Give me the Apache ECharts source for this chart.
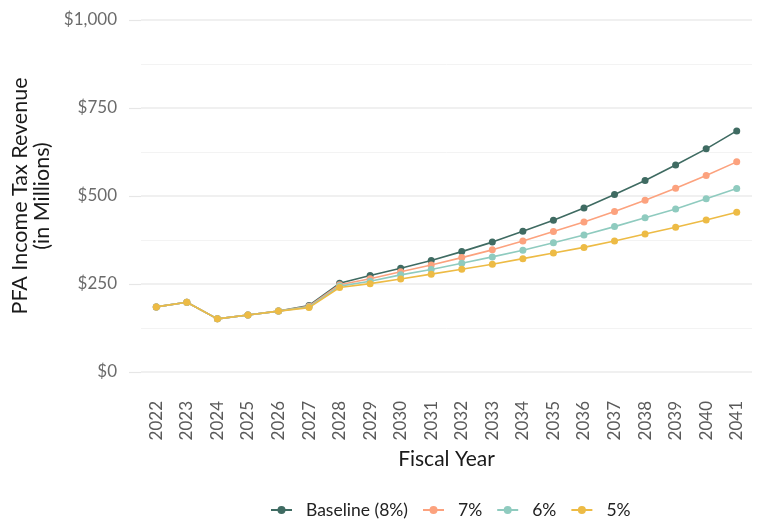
<!DOCTYPE html>
<html>
<head>
<meta charset="utf-8">
<style>
  html, body { margin: 0; padding: 0; background: #ffffff; }
  #chart { width: 758px; height: 519px; }
</style>
<script src="https://cdn.jsdelivr.net/npm/echarts@6/dist/echarts.min.js"></script>
</head>
<body>
<div id="chart"></div>
<script>
// Fiscal years on the horizontal axis
const years = ['2022','2023','2024','2025','2026','2027','2028','2029','2030','2031',
               '2032','2033','2034','2035','2036','2037','2038','2039','2040','2041'];

// PFA income tax revenue, $ millions, by growth scenario
const baseline8 = [185, 198, 151, 162, 173, 189, 252, 274, 295, 317, 342, 369, 400, 431, 466, 504, 544, 588, 634, 685];
const growth7   = [185, 198, 151, 162, 173, 187, 248, 265, 285, 304, 325, 347, 372, 399, 426, 456, 488, 522, 558, 597];
const growth6   = [185, 198, 151, 162, 173, 185, 244, 258, 276, 291, 309, 327, 346, 367, 389, 413, 438, 463, 492, 521];
const growth5   = [185, 198, 151, 162, 173, 183, 240, 251, 264, 278, 292, 306, 322, 338, 354, 372, 392, 411, 432, 454];

const seriesNames = ['Baseline (8%)', '7%', '6%', '5%'];
const seriesData = [baseline8, growth7, growth6, growth5];
const seriesColors = ['#3f6b62', '#fca27e', '#8fcbbf', '#edbb45'];

const FONT = 'Lato, "Liberation Sans", sans-serif';

const chart = echarts.init(document.getElementById('chart'), null, { renderer: 'canvas' });

chart.setOption({
  backgroundColor: '#ffffff',
  animation: false,
  textStyle: { fontFamily: FONT },
  grid: { left: 141, right: 6, top: 20, bottom: 147, containLabel: false },
  legend: {
    data: seriesNames,
    top: 501,
    left: 270,
    padding: 0,
    itemWidth: 21,
    itemHeight: 10,
    itemGap: 14,
    textStyle: { fontFamily: FONT, fontSize: 17.5, color: '#222222', padding: [0, 0, 0, 9] }
  },
  xAxis: {
    type: 'category',
    data: years,
    boundaryGap: true,
    name: 'Fiscal Year',
    nameLocation: 'middle',
    nameGap: 72,
    nameTextStyle: { fontFamily: FONT, fontSize: 21, color: '#1a1a1a' },
    axisLine: { show: false },
    axisTick: { show: false },
    axisLabel: { rotate: 90, margin: 29, fontSize: 17, color: '#5a5a5a', fontFamily: FONT },
    splitLine: { show: false }
  },
  yAxis: {
    type: 'value',
    min: 0,
    max: 1000,
    interval: 250,
    name: 'PFA Income Tax Revenue\n(in Millions)',
    nameLocation: 'middle',
    nameRotate: 90,
    nameGap: 86,
    nameTextStyle: { fontFamily: FONT, fontSize: 21.5, color: '#1a1a1a', lineHeight: 22, align: 'center' },
    axisLine: { show: false },
    axisTick: { show: true, length: 12, lineStyle: { color: '#e6e6e6', width: 1.2 } },
    axisLabel: {
      margin: 24,
      fontSize: 17,
      color: '#6b6b6b',
      fontFamily: FONT,
      formatter: v => '$' + v.toLocaleString('en-US')
    },
    splitLine: { show: true, lineStyle: { color: '#ebebeb', width: 1.5 } },
    minorTick: { show: false, splitNumber: 2 },
    minorSplitLine: { show: true, lineStyle: { color: '#f3f3f3', width: 1 } }
  },
  series: seriesNames.map((name, i) => ({
    name: name,
    type: 'line',
    data: seriesData[i],
    symbol: 'circle',
    symbolSize: 7,
    showSymbol: true,
    lineStyle: { width: 1.6, color: seriesColors[i] },
    itemStyle: { color: seriesColors[i] },
    z: 2 + i
  }))
});
</script>
</body>
</html>
